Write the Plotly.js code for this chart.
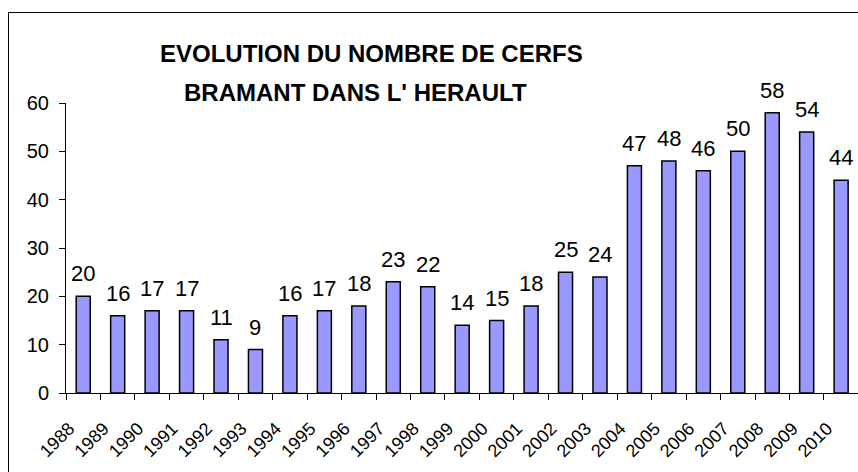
<!DOCTYPE html>
<html>
<head>
<meta charset="utf-8">
<script src="https://cdn.plot.ly/plotly-3.0.1.min.js"></script>
<style>
  html, body { margin: 0; padding: 0; background: #ffffff; }
  #chart { width: 858px; height: 472px; }
</style>
</head>
<body>
<div id="chart"></div>
<script>
const years = ["1988","1989","1990","1991","1992","1993","1994","1995","1996","1997","1998","1999","2000","2001","2002","2003","2004","2005","2006","2007","2008","2009","2010"];
const cerfs = [20,16,17,17,11,9,16,17,18,23,22,14,15,18,25,24,47,48,46,50,58,54,44];
const titleLines = ["EVOLUTION DU NOMBRE DE CERFS", "BRAMANT DANS L' HERAULT"];
const yTicks = [0,10,20,30,40,50,60];

const FONT = "'Liberation Sans', Arial, sans-serif";

const trace = {
  type: "bar",
  x: years,
  y: cerfs,
  marker: { color: "#9999FF", line: { color: "#000000", width: 1.5 } },
  hoverinfo: "x+y"
};

// category index positions for the value labels
const labelAnns = years.map((yr, i) => ({
  x: i, y: cerfs[i], xref: "x", yref: "y",
  text: String(cerfs[i]), showarrow: false,
  yanchor: "bottom", xanchor: "center", yshift: 8,
  font: { family: FONT, size: 22, color: "#000000" }
}));

const titleAnns = [
  { text: titleLines[0], xref: "paper", yref: "paper", x: 0.3857, y: 1.1707,
    xanchor: "center", yanchor: "middle", showarrow: false,
    font: { family: FONT, size: 24, color: "#000000", weight: "bold" } },
  { text: titleLines[1], xref: "paper", yref: "paper", x: 0.3649, y: 1.0345,
    xanchor: "center", yanchor: "middle", showarrow: false,
    font: { family: FONT, size: 24, color: "#000000", weight: "bold" } }
];

const layout = {
  width: 858, height: 472,
  margin: { l: 66, r: 0, t: 103, b: 79, pad: 0 },
  paper_bgcolor: "#ffffff",
  plot_bgcolor: "#ffffff",
  showlegend: false,
  bargap: 0.593,
  font: { family: FONT, color: "#000000" },
  xaxis: {
    type: "category",
    range: [-0.5, 22.49],
    tickson: "boundaries",
    ticks: "outside", ticklen: 6, tickwidth: 1, tickcolor: "#000000",
    showline: true, linecolor: "#000000", linewidth: 1,
    showgrid: false, zeroline: false,
    tickangle: -45,
    ticklabelstandoff: 17,
    ticklabelshift: -14,
    tickfont: { family: FONT, size: 18, color: "#000000" },
    fixedrange: true
  },
  yaxis: {
    range: [0, 60],
    tickvals: yTicks,
    ticktext: yTicks.map(String),
    ticks: "outside", ticklen: 6, tickwidth: 1, tickcolor: "#000000",
    showline: true, linecolor: "#000000", linewidth: 1,
    showgrid: false, zeroline: false,
    ticklabelstandoff: 6,
    tickfont: { family: FONT, size: 20, color: "#000000" },
    fixedrange: true
  },
  annotations: titleAnns.concat(labelAnns),
  shapes: [
    { type: "rect", xref: "paper", yref: "paper",
      x0: -0.0726, x1: 1.5, y0: -0.5, y1: 1.312,
      line: { color: "#000000", width: 1 }, fillcolor: "rgba(0,0,0,0)", layer: "below" }
  ]
};

Plotly.newPlot("chart", [trace], layout, { displayModeBar: false, staticPlot: true });
</script>
</body>
</html>
